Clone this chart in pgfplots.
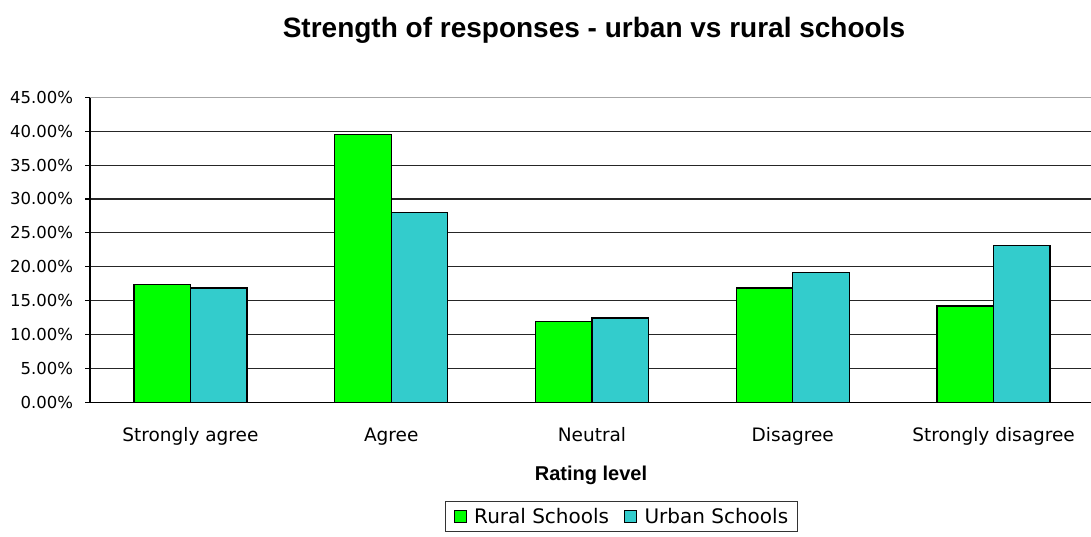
\documentclass[border=0pt]{standalone}
\usepackage{fontspec}
\usepackage{pgfplots}
\pgfplotsset{compat=1.18}
\setmainfont{DejaVu Sans}
\newfontfamily\titlefont{Liberation Sans}
\definecolor{rural}{HTML}{00FF00}
\definecolor{urban}{HTML}{33CCCC}

\pgfplotstableread{
pos rural urban
0 17.35 16.86
1 39.53 28.02
2 11.95 12.43
3 16.86 19.17
4 14.20 23.10
}\responses

\begin{document}
\begin{tikzpicture}[x=1pt,y=1pt]
\path[use as bounding box] (0,0) rectangle (1091,536);
\begin{axis}[
  at={(90pt,133.7pt)}, anchor=south west,
  scale only axis, width=1004pt, height=305pt,
  ybar=0pt, bar width=56.5pt,
  xmin=-0.5, xmax=4.5, ymin=0, ymax=45,
  axis lines=left, axis line style={-, line width=1.1pt, black},
  xtick={0,1,2,3,4},
  xticklabels={Strongly agree,Agree,Neutral,Disagree,Strongly disagree},
  x tick style={draw=none},
  minor xtick={-0.5,0.5,1.5,2.5,3.5,4.5},
  minor x tick style={black, line width=1.1pt},
  minor tick length=7pt, major tick length=5pt,
  tick align=outside,
  xticklabel style={font=\fontsize{18.5}{22}\selectfont, anchor=base, yshift=-34pt},
  ytick={0,5,...,45},
  yticklabels={0.00\%,5.00\%,10.00\%,15.00\%,20.00\%,25.00\%,30.00\%,35.00\%,40.00\%,45.00\%},
  y tick style={black, line width=1.1pt},
  yticklabel style={font=\fontsize{16.5}{20}\selectfont, anchor=east, xshift=-8.5pt},
  ymajorgrids, grid style={black!85, line width=1.1pt},
  title={\titlefont\bfseries\fontsize{28}{33}\selectfont Strength of responses - urban vs rural schools},
  title style={at={(axis description cs:0.502,1.201)}, anchor=center},
  xlabel={\titlefont\bfseries\fontsize{20}{24}\selectfont Rating level},
  xlabel style={at={(axis description cs:0.499,-0.2548)}, anchor=base},
  legend columns=2,
  legend style={at={(axis description cs:0.5294,-0.3744)}, anchor=center,
    draw=black!80, line width=0.9pt, font=\fontsize{20}{24}\selectfont,
    inner xsep=8pt, inner ysep=6pt,
    nodes={inner sep=1pt},
    /tikz/every odd column/.append style={column sep=6.5pt},
    /tikz/every even column/.append style={column sep=14pt}},
  legend image code/.code={\draw[#1, line width=0.9pt] (0pt,-6pt) rectangle (12pt,6pt);},
  clip=false,
]
\draw[gray!70, line width=1.1pt] (axis cs:-0.5,45) -- (axis cs:4.5,45);
\addplot[fill=rural, draw=black, line width=1.3pt] table[x=pos, y=rural] {\responses};
\addplot[fill=urban, draw=black, line width=1.3pt] table[x=pos, y=urban] {\responses};
\legend{Rural Schools,Urban Schools}
\end{axis}
\end{tikzpicture}
\end{document}
